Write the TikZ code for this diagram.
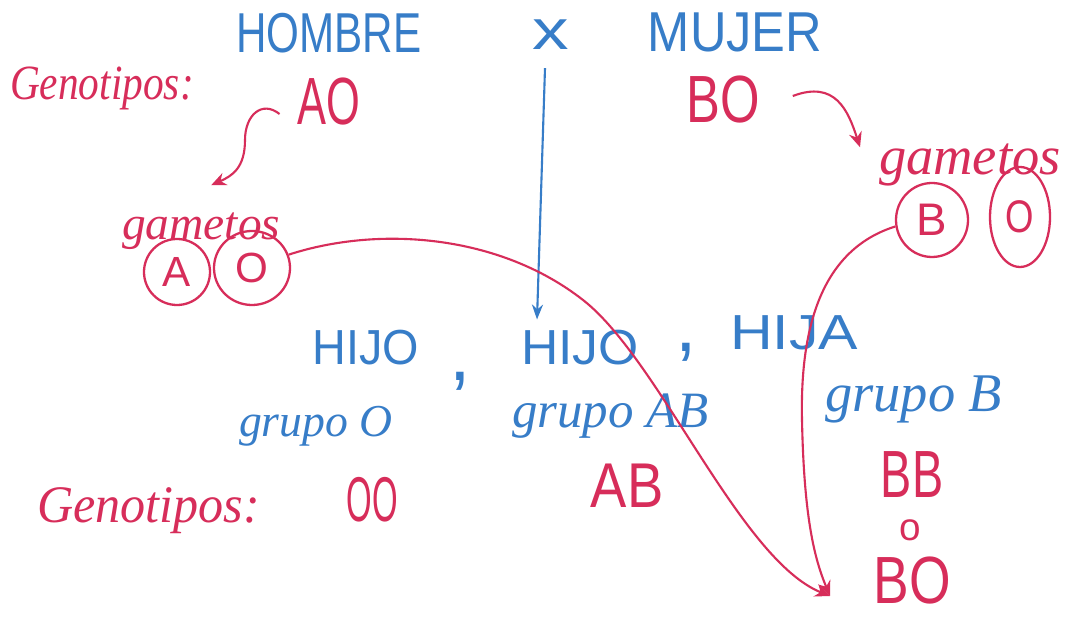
\documentclass[tikz,border=0pt]{standalone}
\usepackage{fontspec}
\setmainfont{Liberation Sans}
\newfontfamily\cursive{Liberation Serif}
\usetikzlibrary{arrows.meta,shapes.geometric}
\definecolor{hblue}{RGB}{55,125,200}
\definecolor{hred}{RGB}{215,45,90}
% horizontally squeezed text, default factor 0.8
\newcommand\nar[2][0.8]{\scalebox{#1}[1]{#2}}
\newcommand\setsz[1]{\fontsize{#1}{#1}\selectfont}

\begin{document}
\begin{tikzpicture}[x=0.2mm,y=-0.2mm,
  bl/.style={text=hblue, inner sep=1pt},
  rd/.style={text=hred, inner sep=1pt},
  curs/.style={font=\cursive\itshape\setsz{#1}},
  ring/.style={draw=hred, ellipse, line width=1.3pt, inner sep=0pt, text=hred},
  rlink/.style={draw=hred, line width=1.2pt, -{Stealth[length=3mm,width=2.6mm]}},
  blink/.style={draw=hblue, line width=1.2pt, -{Stealth[length=3mm,width=2.2mm]}}]
\fill[white] (0,0) rectangle (1078,619);
\useasboundingbox (0,0) rectangle (1078,619);

% parents
\node[bl, anchor=base, font=\setsz{32}] (hombre) at (329,53) {\nar[0.75]{HOMBRE}};
\node[bl, anchor=base, font=\setsz{32}] (cross) at (551,50) {\nar[1.3]{x}};
\node[bl, anchor=base, font=\setsz{32}] (mujer) at (735,52) {\nar[0.9]{MUJER}};
\node[rd, anchor=base west, curs=28] (genoT) at (8,100) {\nar[0.84]{Genotipos:}};
\node[rd, anchor=base, font=\setsz{38}] (aoT) at (329,125) {\nar[0.65]{AO}};
\node[rd, anchor=base, font=\setsz{38}] (boT) at (723,123) {\nar[0.76]{BO}};

% gametes
\node[rd, anchor=base west, curs=27] (gamL) at (120,240) {gametos};
\node[rd, anchor=base west, curs=31] (gamR) at (877,175) {gametos};
\node[ring, minimum width=13.2mm, minimum height=13.2mm, font=\setsz{24}] (cA) at (177,272) {A};
\node[ring, minimum width=15.2mm, minimum height=14.8mm, font=\setsz{24}] (cO) at (252,268) {O};
\node[ring, minimum width=14.4mm, minimum height=14.8mm, font=\setsz{26}] (cB) at (932,220) {B};
\node[ring, minimum width=12mm, minimum height=20mm, font=\setsz{26}] (cO2) at (1020,217) {\nar[0.8]{O}};

% children
\node[bl, anchor=base, font=\setsz{28}] (hijo1) at (366,365) {\nar[0.95]{HIJO}};
\node[bl, anchor=base, font=\setsz{28}] (hijo2) at (580,365) {\nar[1.05]{HIJO}};
\node[bl, anchor=base, font=\setsz{28}] (hija) at (794,350) {\nar[1.2]{HIJA}};
\node[bl, font=\setsz{44}] (com1) at (460,381) {,};
\node[bl, font=\setsz{44}] (com2) at (686,352) {,};
\node[bl, anchor=base west, curs=26] (grpO) at (237,437) {grupo O};
\node[bl, anchor=base west, curs=29] (grpAB) at (510,428) {grupo AB};
\node[bl, anchor=base west, curs=31] (grpB) at (823,412) {grupo B};

% children genotypes
\node[rd, anchor=base west, curs=30] (genoB) at (35,523) {\nar[0.95]{Genotipos:}};
\node[rd, anchor=base, font=\setsz{36}] (oo) at (372,522) {\nar[0.52]{OO}};
\node[rd, anchor=base, font=\setsz{36}] (ab) at (627,508) {\nar[0.86]{AB}};
\node[rd, anchor=base, font=\setsz{38}] (bb) at (912,498) {\nar[0.7]{BB}};
\node[rd, anchor=base, font=\setsz{22}] (orr) at (910,540) {o};
\node[rd, anchor=base, font=\setsz{38}] (bo) at (912,603) {\nar[0.8]{BO}};
\coordinate (tip) at (830,596);

% connectors
\draw[rlink] ([shift={(-16,12)}]aoT.west) .. controls (262,100) and (245,115) .. (245,140)
  .. controls (245,168) and (232,176) .. ([shift={(10,-26)}]gamL.north);
\draw[rlink] ([shift={(31,-4)}]boT.east) .. controls (835,80) and (848,110) .. ([shift={(-17,5)}]gamR.north west);
\draw[blink] ([shift={(-6,16)}]cross.south) -- ([shift={(-43,-9)}]hijo2.north);
\draw[rlink] (cO.20) .. controls (380,225) and (500,235) .. (583,300)
  .. controls (660,360) and (740,560) .. (tip);
\draw[rlink] (cB.190) .. controls (820,250) and (800,330) .. (802,420)
  .. controls (804,520) and (815,560) .. (tip);
\end{tikzpicture}
\end{document}
